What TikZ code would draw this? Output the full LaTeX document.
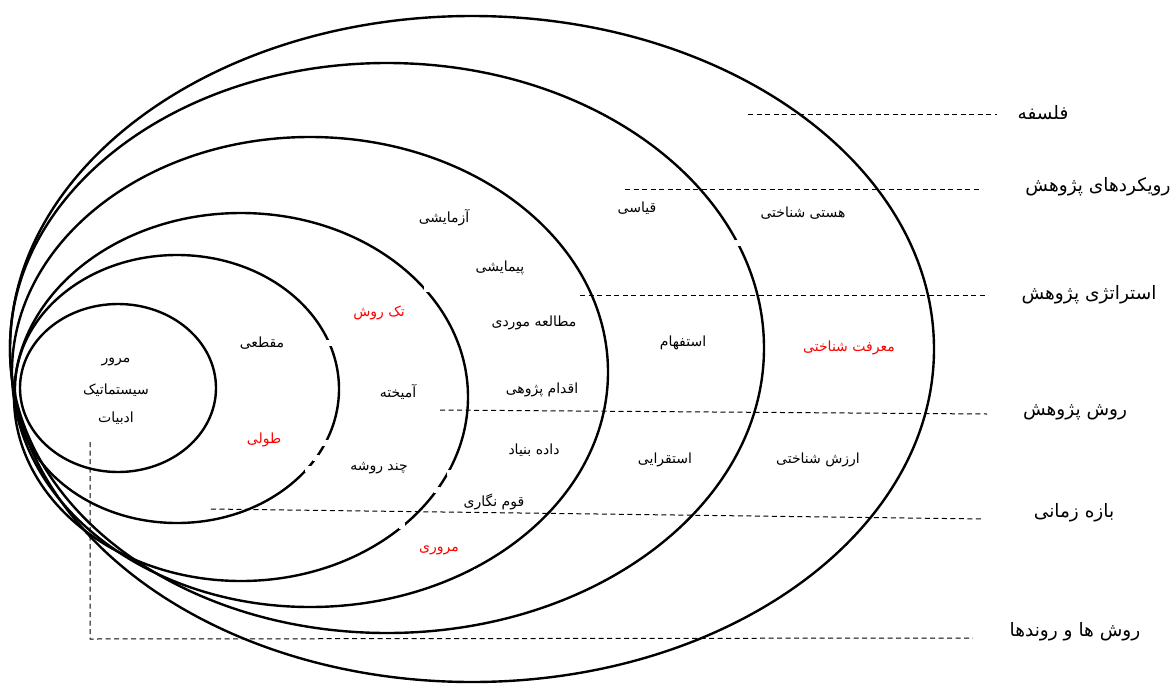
\documentclass[tikz,border=0pt]{standalone}
\usepackage{fontspec}
\newfontfamily\fa[Script=Arabic]{DejaVu Sans}
\TeXXeTstate=1
\newcommand{\fat}[1]{\beginR #1\endR}

\begin{document}
\begin{tikzpicture}[x=1pt, y=-1pt,
    onion/.style={line width=2.4pt},
    leader/.style={line width=1pt, dash pattern=on 5pt off 3.5pt},
    lbl/.style={font=\fa\fontsize{14}{16}\selectfont, inner sep=1pt},
    hot/.style={lbl, text=red},
    head/.style={font=\fa\fontsize{18.5}{22}\selectfont, inner sep=1pt}]
  \useasboundingbox (0,0) rectangle (1173,683);

  % layers of the onion, outside in
  \draw[onion] (472,349) ellipse [x radius=462, y radius=333];
  \draw[onion] (387,348) ellipse [x radius=377, y radius=285];
  \draw[onion] (310,372) ellipse [x radius=298, y radius=235];
  \draw[onion] (241,397) ellipse [x radius=227, y radius=184];
  \draw[onion] (177,389) ellipse [x radius=162, y radius=134];
  \draw[onion] (118,388) ellipse [x radius=98, y radius=84];

  % small breaks in the rings
  \foreach \gx/\gy in {738/243, 427/289, 329/343, 325/443, 316/458, 308/469,
                       450/473, 437/490, 402/526, 590/473, 477/572} {
    \fill[white] (\gx-3,\gy-3) rectangle (\gx+3,\gy+3);
  }

  % headings on the right
  \node[head] (fls) at (1043,113) {\fat{فلسفه}};
  \node[head] (rvk) at (1098,187) {\fat{رویکردهای پژوهش}};
  \node[head] (str) at (1089,295) {\fat{استراتژی پژوهش}};
  \node[head] (rsh) at (1075,412) {\fat{روش پژوهش}};
  \node[head] (bzm) at (1074,513) {\fat{بازه زمانی}};
  \node[head] (rvd) at (1075,632) {\fat{روش ها و روندها}};

  % leader lines
  \coordinate (fls-a) at (748,114);  \coordinate (fls-b) at (997,114);
  \coordinate (rvk-a) at (625,189);  \coordinate (rvk-b) at (980,189);
  \coordinate (str-a) at (580,295);  \coordinate (str-b) at (988,295);
  \coordinate (rsh-a) at (440,410);  \coordinate (rsh-b) at (987,414);
  \coordinate (bzm-a) at (211,509);  \coordinate (bzm-b) at (984,519);
  \coordinate (rvd-a) at (90,442);   \coordinate (rvd-c) at (90,639);
  \coordinate (rvd-b) at (973,638);
  \foreach \n in {fls, rvk, str, rsh, bzm} {
    \draw[leader] (\n-a) -- (\n-b);
  }
  \draw[leader] (rvd-a) -- (rvd-c) -- (rvd-b);

  % philosophy ring
  \node[lbl] (hst) at (803,213) {\fat{هستی شناختی}};
  \node[hot] (mrf) at (849,348) {\fat{معرفت شناختی}};
  \node[lbl] (arz) at (818,460) {\fat{ارزش شناختی}};

  % approach ring
  \node[lbl] (qys) at (637,208) {\fat{قیاسی}};
  \node[lbl] (ist) at (683,343) {\fat{استفهام}};
  \node[lbl] (isq) at (665,460) {\fat{استقرایی}};

  % strategy ring
  \node[lbl] (azm) at (444,218) {\fat{آزمایشی}};
  \node[lbl] (pym) at (500,268) {\fat{پیمایشی}};
  \node[lbl] (mtl) at (534,323) {\fat{مطالعه موردی}};
  \node[lbl] (eqd) at (542,390) {\fat{اقدام پژوهی}};
  \node[lbl] (ddb) at (534,450) {\fat{داده بنیاد}};
  \node[lbl] (qvm) at (494,502) {\fat{قوم نگاری}};
  \node[hot] (mrv) at (439,550) {\fat{مروری}};

  % method choice ring
  \node[hot] (tkr) at (379,313) {\fat{تک روش}};
  \node[lbl] (amx) at (398,392) {\fat{آمیخته}};
  \node[lbl] (chr) at (379,468) {\fat{چند روشه}};

  % time horizon ring
  \node[lbl] (mqt) at (262,343) {\fat{مقطعی}};
  \node[hot] (tvl) at (264,440) {\fat{طولی}};

  % core
  \node[lbl] (core1) at (116,362) {\fat{مرور}};
  \node[lbl] (core2) at (116,390) {\fat{سیستماتیک}};
  \node[lbl] (core3) at (116,418) {\fat{ادبیات}};
\end{tikzpicture}
\end{document}
